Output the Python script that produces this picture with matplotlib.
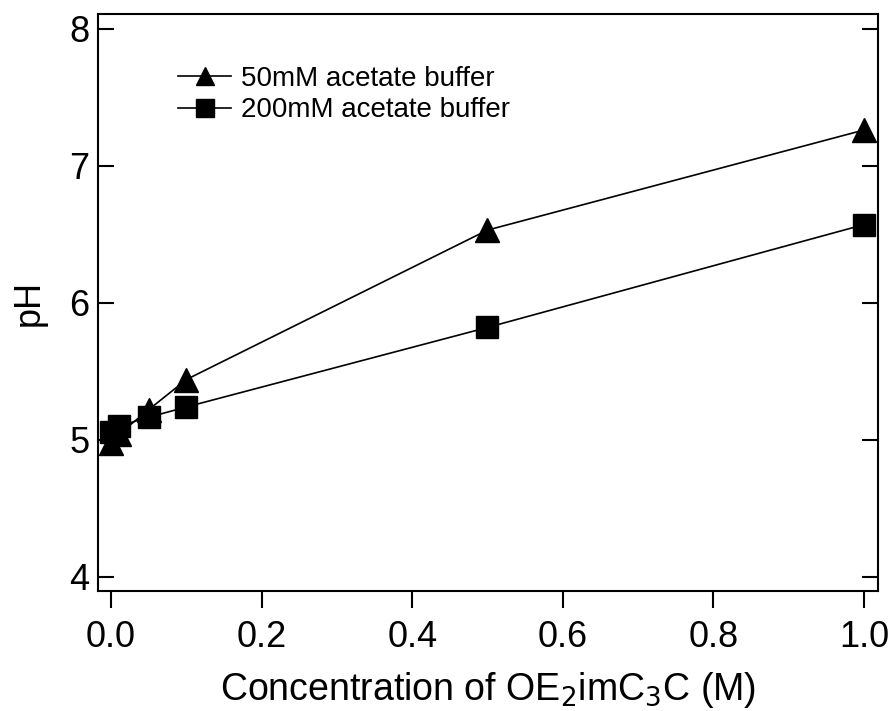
import matplotlib
matplotlib.use("Agg")
import matplotlib.pyplot as plt

plt.rcParams["font.family"] = ["Liberation Sans", "DejaVu Sans"]

# concentration of OE2imC3C (M)
conc_50 = [0.0, 0.01, 0.05, 0.1, 0.5, 1.0]
ph_50 = [4.98, 5.04, 5.22, 5.44, 6.53, 7.26]

conc_200 = [0.0, 0.01, 0.05, 0.1, 0.5, 1.0]
ph_200 = [5.06, 5.10, 5.165, 5.24, 5.82, 6.57]

x_ticks = [0.0, 0.2, 0.4, 0.6, 0.8, 1.0]
y_ticks = [4, 5, 6, 7, 8]

fig = plt.figure(figsize=(8.93, 7.11), dpi=100)
ax = fig.add_axes([0.1094, 0.1692, 0.8741, 0.8107])

ax.plot(conc_50, ph_50, color="black", lw=1.2, marker="^", ms=17,
        label="50mM acetate buffer")
ax.plot(conc_200, ph_200, color="black", lw=1.2, marker="s", ms=16,
        label="200mM acetate buffer")

ax.set_xlim(-0.0177, 1.019)
ax.set_ylim(3.90, 8.104)
ax.set_xticks(x_ticks)
ax.set_xticklabels([f"{v:.1f}" for v in x_ticks])
ax.set_yticks(y_ticks)

for s in ax.spines.values():
    s.set_linewidth(1.5)

ax.tick_params(axis="x", direction="out", length=12, width=1.5,
               labelsize=26, pad=9)
ax.tick_params(axis="y", direction="in", length=11.5, width=1.5,
               labelsize=26, left=True, right=True, pad=6)

ax.set_xlabel("Concentration of OE$_2$imC$_3$C (M)", fontsize=27, labelpad=11)
ax.set_ylabel("pH", fontsize=26, labelpad=16)

ax.legend(loc="upper left", bbox_to_anchor=(0.089, 0.93), frameon=False,
          fontsize=20, markerscale=0.8, handlelength=1.9, handletextpad=0.35,
          labelspacing=0.2, borderaxespad=0)

fig.savefig("out.png", dpi=100)
